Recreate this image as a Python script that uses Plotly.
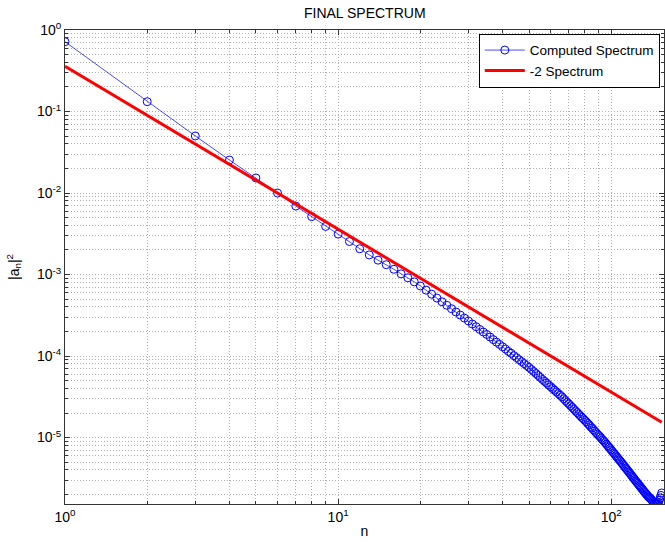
import plotly.graph_objects as go
import math

# Computed spectrum |a_n|^2, n = 1..153
n_vals = list(range(1, 154))
computed = [
    7.18e-1, 1.32e-1, 5.01e-2, 2.54e-2, 1.53e-2, 1.00e-2, 6.92e-3, 5.13e-3, 3.89e-3, 3.13e-3,
    2.54e-3, 2.07e-3, 1.74e-3, 1.50e-3, 1.32e-3, 1.16e-3, 1.02e-3, 9.12e-4, 8.13e-4, 7.24e-4,
    6.43e-4, 5.74e-4, 5.14e-4, 4.63e-4, 4.20e-4, 3.81e-4, 3.47e-4, 3.18e-4, 2.92e-4, 2.69e-4,
    2.47e-4, 2.29e-4, 2.12e-4, 1.97e-4, 1.84e-4, 1.71e-4, 1.59e-4, 1.48e-4, 1.39e-4, 1.30e-4,
    1.22e-4, 1.14e-4, 1.08e-4, 1.01e-4, 9.55e-5, 9.02e-5, 8.53e-5, 8.07e-5, 7.66e-5, 7.26e-5,
    6.84e-5, 6.46e-5, 6.10e-5, 5.77e-5, 5.46e-5, 5.16e-5, 4.90e-5, 4.66e-5, 4.42e-5, 4.20e-5,
    4.00e-5, 3.81e-5, 3.63e-5, 3.46e-5, 3.30e-5, 3.16e-5, 2.99e-5, 2.84e-5, 2.70e-5, 2.58e-5,
    2.45e-5, 2.34e-5, 2.23e-5, 2.12e-5, 2.03e-5, 1.94e-5, 1.85e-5, 1.77e-5, 1.70e-5, 1.63e-5,
    1.56e-5, 1.49e-5, 1.43e-5, 1.36e-5, 1.31e-5, 1.25e-5, 1.20e-5, 1.15e-5, 1.10e-5, 1.06e-5,
    1.02e-5, 9.75e-6, 9.38e-6, 9.02e-6, 8.67e-6, 8.30e-6, 7.96e-6, 7.64e-6, 7.33e-6, 7.03e-6,
    6.75e-6, 6.47e-6, 6.22e-6, 5.98e-6, 5.75e-6, 5.53e-6, 5.32e-6, 5.13e-6, 4.93e-6, 4.74e-6,
    4.56e-6, 4.39e-6, 4.22e-6, 4.06e-6, 3.92e-6, 3.77e-6, 3.64e-6, 3.51e-6, 3.38e-6, 3.26e-6,
    3.15e-6, 3.03e-6, 2.93e-6, 2.83e-6, 2.74e-6, 2.64e-6, 2.56e-6, 2.48e-6, 2.39e-6, 2.32e-6,
    2.24e-6, 2.17e-6, 2.11e-6, 2.04e-6, 1.98e-6, 1.93e-6, 1.87e-6, 1.83e-6, 1.79e-6, 1.75e-6,
    1.69e-6, 1.64e-6, 1.60e-6, 1.57e-6, 1.55e-6, 1.53e-6, 1.53e-6, 1.55e-6, 1.60e-6, 1.70e-6,
    1.82e-6, 1.95e-6, 2.09e-6,
]

# -2 reference spectrum (straight line in log-log), endpoints
ref_n = [1, 153]
ref_vals = [0.36, 1.54e-5]

# Axis limits and tick labels
x_limits = [1, 156]
y_limits = [1.53e-6, 1.0]
x_major = [1, 10, 100]
x_major_text = ["10<sup>0</sup>", "10<sup>1</sup>", "10<sup>2</sup>"]
x_minor = [2, 3, 4, 5, 6, 7, 8, 9, 20, 30, 40, 50, 60, 70, 80, 90]
y_major = [1e-5, 1e-4, 1e-3, 1e-2, 1e-1, 1]
y_major_text = ["10<sup>-5</sup>", "10<sup>-4</sup>", "10<sup>-3</sup>",
                "10<sup>-2</sup>", "10<sup>-1</sup>", "10<sup>0</sup>"]
y_minor = [m * 10.0 ** e for e in range(-6, 0) for m in range(2, 10)]

fig = go.Figure()
fig.add_trace(go.Scatter(
    x=n_vals, y=computed, mode="lines+markers", name="Computed Spectrum",
    line=dict(color="#1a1aff", width=0.8),
    marker=dict(symbol="circle-open", size=8, color="#0000ff", line=dict(width=1, color="#0000ff")),
))
fig.add_trace(go.Scatter(
    x=ref_n, y=ref_vals, mode="lines", name="-2 Spectrum",
    line=dict(color="#ff0000", width=3),
))

font_family = "Liberation Sans, Arial, sans-serif"
gridstyle = dict(showgrid=True, gridcolor="#b0b0b0", griddash="1px,2px", gridwidth=1)

fig.update_layout(
    width=665, height=543,
    margin=dict(l=65, r=1, t=30, b=39, autoexpand=False),
    paper_bgcolor="white", plot_bgcolor="white",
    font=dict(family=font_family, size=14, color="black"),
    title=dict(text="FINAL SPECTRUM", x=0.5485, xanchor="center", y=0.975, yanchor="middle",
               font=dict(size=14, family=font_family, color="black")),
    showlegend=True,
    legend=dict(x=0.993, xanchor="right", y=0.992, yanchor="top",
                bgcolor="white", bordercolor="black", borderwidth=1,
                font=dict(size=13.5, family=font_family), tracegroupgap=0,
                itemwidth=40),
    xaxis=dict(
        type="log", range=[math.log10(x_limits[0]), math.log10(x_limits[1])],
        tickmode="array", tickvals=x_major, ticktext=x_major_text,
        ticks="inside", ticklen=5, tickcolor="#333", showline=True, linecolor="#333",
        linewidth=1, mirror="allticks", zeroline=False,
        title=dict(text="n", standoff=2, font=dict(size=14)),
        tickfont=dict(size=14),
        minor=dict(tickvals=x_minor, ticks="inside", ticklen=3, tickcolor="#333", **gridstyle),
        **gridstyle,
    ),
    yaxis=dict(
        type="log", range=[math.log10(y_limits[0]), math.log10(y_limits[1])],
        tickmode="array", tickvals=y_major, ticktext=y_major_text,
        ticks="inside", ticklen=5, tickcolor="#333", showline=True, linecolor="#333",
        linewidth=1, mirror="allticks", zeroline=False,
        title=dict(text="|a<sub>n</sub>|<sup>2</sup>", standoff=14, font=dict(size=14)),
        tickfont=dict(size=14),
        minor=dict(tickvals=y_minor, ticks="inside", ticklen=3, tickcolor="#333", **gridstyle),
        **gridstyle,
    ),
)

fig.write_html("out.html", config={"displayModeBar": False},
               post_script="document.body.style.margin='0';document.body.style.overflow='hidden';")
